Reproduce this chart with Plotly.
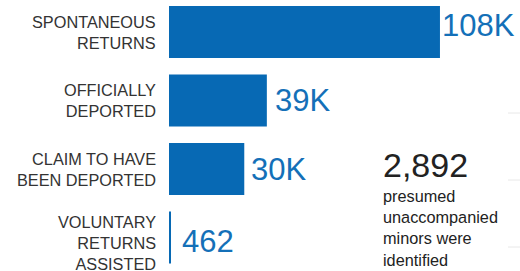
import plotly.graph_objects as go

categories = ["SPONTANEOUS<br>RETURNS", "OFFICIALLY<br>DEPORTED",
              "CLAIM TO HAVE<br>BEEN DEPORTED", "VOLUNTARY<br>RETURNS<br>ASSISTED"]
values = [108000, 39000, 30000, 462]
value_labels = ["108K", "39K", "30K", "462"]
minors_count = "2,892"
minors_text = ["presumed", "unaccompanied", "minors were", "identified"]

# layout tweaks (pixel nudges for the text, not data)
value_xshift = [0, 6, 5, 10]
value_yshift = [6, 0, 0, -4]
label_yshift = [-1, 0, 0, -5]

BLUE = "#0769B4"
FONT = "Liberation Sans, Arial, sans-serif"

W, H = 520, 271
L = 169

def px(x):
    return (x - L) / (W - L)

def py(y):
    return 1 - y / H

fig = go.Figure()
fig.add_trace(go.Bar(
    y=categories, x=values, orientation="h",
    marker=dict(color=BLUE, line=dict(width=0)),
    width=0.76, cliponaxis=False,
))

for cat, v, lab, dx, dy in zip(categories, values, value_labels, value_xshift, value_yshift):
    fig.add_annotation(x=v, y=cat, text=lab, showarrow=False, xanchor="left", yanchor="middle",
                       xshift=dx, yshift=dy,
                       font=dict(family=FONT, size=31, color="#1470B8"))

for cat, dy in zip(categories, label_yshift):
    fig.add_annotation(x=0, y=cat, xref="paper", text=cat, showarrow=False,
                       xanchor="right", yanchor="middle", align="right",
                       xshift=-11, yshift=dy,
                       font=dict(family=FONT, size=16.3, color="#333333"))

fig.add_annotation(x=px(381), y=py(186), xref="paper", yref="paper", text=minors_count,
                   showarrow=False, xanchor="left", yanchor="bottom",
                   font=dict(family=FONT, size=34, color="#222222"))
fig.add_annotation(x=px(381), y=py(185), xref="paper", yref="paper",
                   text="<br>".join(minors_text),
                   showarrow=False, xanchor="left", yanchor="top", align="left",
                   font=dict(family=FONT, size=16.3, color="#222222"))

for yy in [113, 180, 247]:
    fig.add_shape(type="line", xref="paper", yref="paper", x0=px(508), x1=px(520),
                  y0=py(yy), y1=py(yy), line=dict(color="#E8E8E8", width=1))

fig.update_layout(
    width=W, height=H, margin=dict(l=L, r=0, t=0, b=0, autoexpand=False),
    paper_bgcolor="white", plot_bgcolor="white", showlegend=False,
    xaxis=dict(range=[0, 139900], visible=False, fixedrange=True, automargin=False),
    yaxis=dict(range=[3.489, -0.467], showgrid=False, zeroline=False, showline=False,
               showticklabels=False, ticks="", automargin=False),
)

fig.write_html("out.html", config={"displayModeBar": False},
               post_script="document.body.style.margin='0';document.body.style.overflow='hidden';")
